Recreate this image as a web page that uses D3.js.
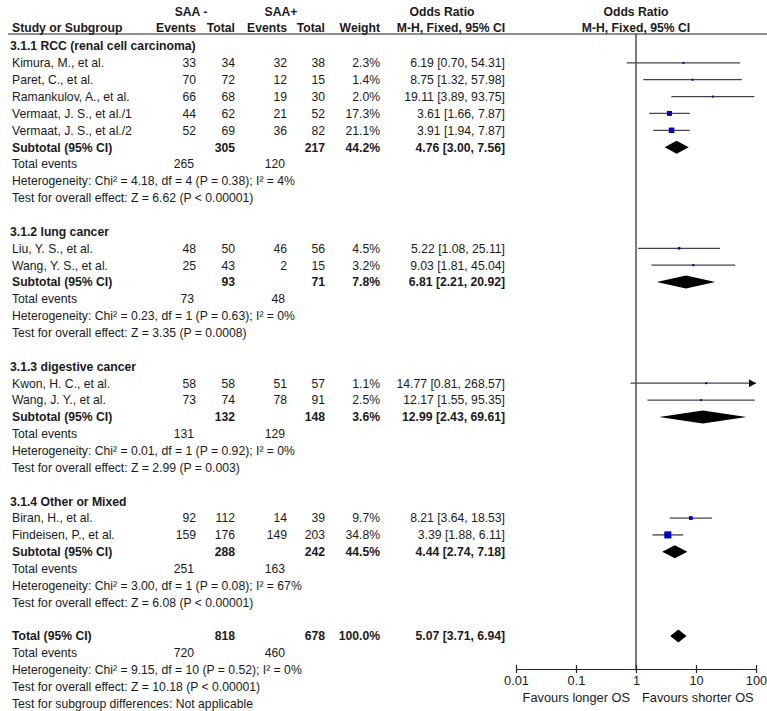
<!DOCTYPE html>
<html><head><meta charset="utf-8">
<script src="https://cdn.jsdelivr.net/npm/d3@7"></script>
<style>body{margin:0;background:#fff}svg{display:block}text{font-family:"Liberation Sans",Arial,sans-serif;fill:#1a1a1a}</style>
</head><body><div id="chart"></div>
<script>
// ---- data ----
const studyNames = ["Kimura, M., et al.","Paret, C., et al.","Ramankulov, A., et al.","Vermaat, J. S., et al./1","Vermaat, J. S., et al./2",
  "Liu, Y. S., et al.","Wang, Y. S., et al.","Kwon, H. C., et al.","Wang, J. Y., et al.","Biran, H., et al.","Findeisen, P., et al."];
const studyGroup = [0,0,0,0,0,1,1,2,2,3,3];
const eventsNeg = [33,70,66,44,52,48,25,58,73,92,159];
const totalNeg  = [34,72,68,62,69,50,43,58,74,112,176];
const eventsPos = [32,12,19,21,36,46,2,51,78,14,149];
const totalPos  = [38,15,30,52,82,56,15,57,91,39,203];
const weights   = [2.3,1.4,2.0,17.3,21.1,4.5,3.2,1.1,2.5,9.7,34.8];
const oddsRatio = [6.19,8.75,19.11,3.61,3.91,5.22,9.03,14.77,12.17,8.21,3.39];
const ciLow     = [0.70,1.32,3.89,1.66,1.94,1.08,1.81,0.81,1.55,3.64,1.88];
const ciHigh    = [54.31,57.98,93.75,7.87,7.87,25.11,45.04,268.57,95.35,18.53,6.11];

const groupTitles = ["3.1.1 RCC (renal cell carcinoma)","3.1.2 lung cancer","3.1.3 digestive cancer","3.1.4 Other or Mixed"];
const subTotalNeg = [305,93,132,288];
const subTotalPos = [217,71,148,242];
const subWeight   = [44.2,7.8,3.6,44.5];
const subOR       = [4.76,6.81,12.99,4.44];
const subLow      = [3.00,2.21,2.43,2.74];
const subHigh     = [7.56,20.92,69.61,7.18];
const subEventsNeg= [265,73,131,251];
const subEventsPos= [120,48,129,163];
const subHet      = ["Heterogeneity: Chi² = 4.18, df = 4 (P = 0.38); I² = 4%",
                     "Heterogeneity: Chi² = 0.23, df = 1 (P = 0.63); I² = 0%",
                     "Heterogeneity: Chi² = 0.01, df = 1 (P = 0.92); I² = 0%",
                     "Heterogeneity: Chi² = 3.00, df = 1 (P = 0.08); I² = 67%"];
const subTest     = ["Test for overall effect: Z = 6.62 (P < 0.00001)",
                     "Test for overall effect: Z = 3.35 (P = 0.0008)",
                     "Test for overall effect: Z = 2.99 (P = 0.003)",
                     "Test for overall effect: Z = 6.08 (P < 0.00001)"];
const overall = {nNeg:818,nPos:678,weight:100.0,or:5.07,lo:3.71,hi:6.94,eNeg:720,ePos:460,
  het:"Heterogeneity: Chi² = 9.15, df = 10 (P = 0.52); I² = 0%",
  test:"Test for overall effect: Z = 10.18 (P < 0.00001)",
  sub:"Test for subgroup differences: Not applicable"};
const axisTicks = [0.01,0.1,1,10,100];
const axisTickLabels = ["0.01","0.1","1","10","100"];
const favourLabels = ["Favours longer OS","Favours shorter OS"];

// ---- layout ----
const W=767,H=711;
const svg=d3.select("#chart").append("svg").attr("width",W).attr("height",H);
const x=d3.scaleLog().domain([0.01,100]).range([516,756]);
const y=d3.scaleLinear().domain([0,39]).range([46,703.5]);
const FS=12.2;
const col={name:12,eNeg:196,nNeg:235,ePos:287,nPos:325,w:380,ci:505};
const fmt2=d3.format(".2f");
const ciText=(o,l,h)=>`${fmt2(o)} [${fmt2(l)}, ${fmt2(h)}]`;

function txt(xp,row,s,opts={}){
  return svg.append("text").attr("x",xp).attr("y",y(row)).attr("dy","0.36em")
    .attr("font-size",opts.fs||FS).attr("font-weight",opts.bold?"bold":"normal")
    .attr("text-anchor",opts.anchor||"start").text(s);
}

// header
svg.append("text").attr("x",191).attr("y",12).attr("dy","0.36em").attr("font-size",FS).attr("font-weight","bold").attr("text-anchor","middle").text("SAA -");
svg.append("text").attr("x",281).attr("y",12).attr("dy","0.36em").attr("font-size",FS).attr("font-weight","bold").attr("text-anchor","middle").text("SAA+");
svg.append("text").attr("x",442).attr("y",12).attr("dy","0.36em").attr("font-size",FS).attr("font-weight","bold").attr("text-anchor","middle").text("Odds Ratio");
svg.append("text").attr("x",x(1)).attr("y",12).attr("dy","0.36em").attr("font-size",FS).attr("font-weight","bold").attr("text-anchor","middle").text("Odds Ratio");
const h2=[[12,"Study or Subgroup","start"],[196,"Events","end"],[235,"Total","end"],[287,"Events","end"],[325,"Total","end"],[380,"Weight","end"],[451,"M-H, Fixed, 95% CI","middle"],[x(1),"M-H, Fixed, 95% CI","middle"]];
h2.forEach(d=>svg.append("text").attr("x",d[0]).attr("y",27.5).attr("dy","0.36em").attr("font-size",FS).attr("font-weight","bold").attr("text-anchor",d[2]).text(d[1]));
svg.append("line").attr("x1",8).attr("x2",W).attr("y1",34).attr("y2",34).attr("stroke","#222").attr("stroke-width",1.2);

// vertical line of no effect
const axisY=669;
svg.append("line").attr("x1",x(1)).attr("x2",x(1)).attr("y1",34).attr("y2",axisY).attr("stroke","#222").attr("stroke-width",1.2);

// rows
const groupStartRows=[0,11,19,27];
groupTitles.forEach((g,gi)=>{
  let r=groupStartRows[gi];
  txt(10,r,g,{bold:true});
  const members=d3.range(studyNames.length).filter(i=>studyGroup[i]===gi);
  members.forEach((i,k)=>{
    const rr=r+1+k;
    txt(col.name,rr,studyNames[i]);
    txt(col.eNeg,rr,eventsNeg[i],{anchor:"end"});
    txt(col.nNeg,rr,totalNeg[i],{anchor:"end"});
    txt(col.ePos,rr,eventsPos[i],{anchor:"end"});
    txt(col.nPos,rr,totalPos[i],{anchor:"end"});
    txt(col.w,rr,weights[i].toFixed(1)+"%",{anchor:"end"});
    txt(col.ci,rr,ciText(oddsRatio[i],ciLow[i],ciHigh[i]),{anchor:"end"});
    const hiClamped=Math.min(ciHigh[i],100), loClamped=Math.max(ciLow[i],0.01);
    svg.append("line").attr("x1",x(loClamped)).attr("x2",x(hiClamped)).attr("y1",y(rr)).attr("y2",y(rr)).attr("stroke","#444").attr("stroke-width",1.3);
    if(ciHigh[i]>100){
      const ax=x(100), ay=y(rr);
      svg.append("path").attr("d",`M${ax},${ay}L${ax-7},${ay-4}L${ax-7},${ay+4}Z`).attr("fill","#111");
    }
    const s=Math.max(2,1.2*Math.sqrt(weights[i]));
    svg.append("rect").attr("x",x(oddsRatio[i])-s/2).attr("y",y(rr)-s/2).attr("width",s).attr("height",s).attr("fill","#0000c8");
  });
  const sr=r+1+members.length;
  txt(col.name,sr,"Subtotal (95% CI)",{bold:true});
  txt(col.nNeg,sr,subTotalNeg[gi],{anchor:"end",bold:true});
  txt(col.nPos,sr,subTotalPos[gi],{anchor:"end",bold:true});
  txt(col.w,sr,subWeight[gi].toFixed(1)+"%",{anchor:"end",bold:true});
  txt(col.ci,sr,ciText(subOR[gi],subLow[gi],subHigh[gi]),{anchor:"end",bold:true});
  const dy=y(sr);
  svg.append("path").attr("d",`M${x(subLow[gi])},${dy}L${x(subOR[gi])},${dy-6.5}L${x(subHigh[gi])},${dy}L${x(subOR[gi])},${dy+6.5}Z`).attr("fill","#000");
  txt(col.name,sr+1,"Total events");
  txt(col.eNeg-2,sr+1,subEventsNeg[gi],{anchor:"end"});
  txt(col.ePos-2,sr+1,subEventsPos[gi],{anchor:"end"});
  txt(col.name,sr+2,subHet[gi]);
  txt(col.name,sr+3,subTest[gi]);
});

// overall
const tr=35;
txt(col.name,tr,"Total (95% CI)",{bold:true});
txt(col.nNeg,tr,overall.nNeg,{anchor:"end",bold:true});
txt(col.nPos,tr,overall.nPos,{anchor:"end",bold:true});
txt(col.w,tr,overall.weight.toFixed(1)+"%",{anchor:"end",bold:true});
txt(col.ci,tr,ciText(overall.or,overall.lo,overall.hi),{anchor:"end",bold:true});
{
  const dy=y(tr);
  svg.append("path").attr("d",`M${x(overall.lo)},${dy}L${x(overall.or)},${dy-6.5}L${x(overall.hi)},${dy}L${x(overall.or)},${dy+6.5}Z`).attr("fill","#000");
}
txt(col.name,tr+1,"Total events");
txt(col.eNeg-2,tr+1,overall.eNeg,{anchor:"end"});
txt(col.ePos-2,tr+1,overall.ePos,{anchor:"end"});
txt(col.name,tr+2,overall.het);
txt(col.name,tr+3,overall.test);
txt(col.name,tr+4,overall.sub);

// axis
const ax=svg.append("g").attr("transform",`translate(0,${axisY})`)
  .call(d3.axisBottom(x).tickValues(axisTicks).tickFormat((d,i)=>axisTickLabels[i]).tickSize(4).tickSizeOuter(0));
ax.select(".domain").attr("stroke","#222").attr("stroke-width",1.2);
ax.selectAll(".tick line").attr("y1",-4).attr("y2",4).attr("stroke","#222").attr("stroke-width",1.2);
ax.selectAll(".tick text").attr("font-size",12.8).attr("font-family","Liberation Sans, Arial, sans-serif").attr("fill","#1a1a1a").attr("y",7);
svg.append("text").attr("x",630).attr("y",697).attr("dy","0.36em").attr("font-size",12.8).attr("text-anchor","end").text(favourLabels[0]);
svg.append("text").attr("x",642).attr("y",697).attr("dy","0.36em").attr("font-size",12.8).attr("text-anchor","start").text(favourLabels[1]);
</script></body></html>
